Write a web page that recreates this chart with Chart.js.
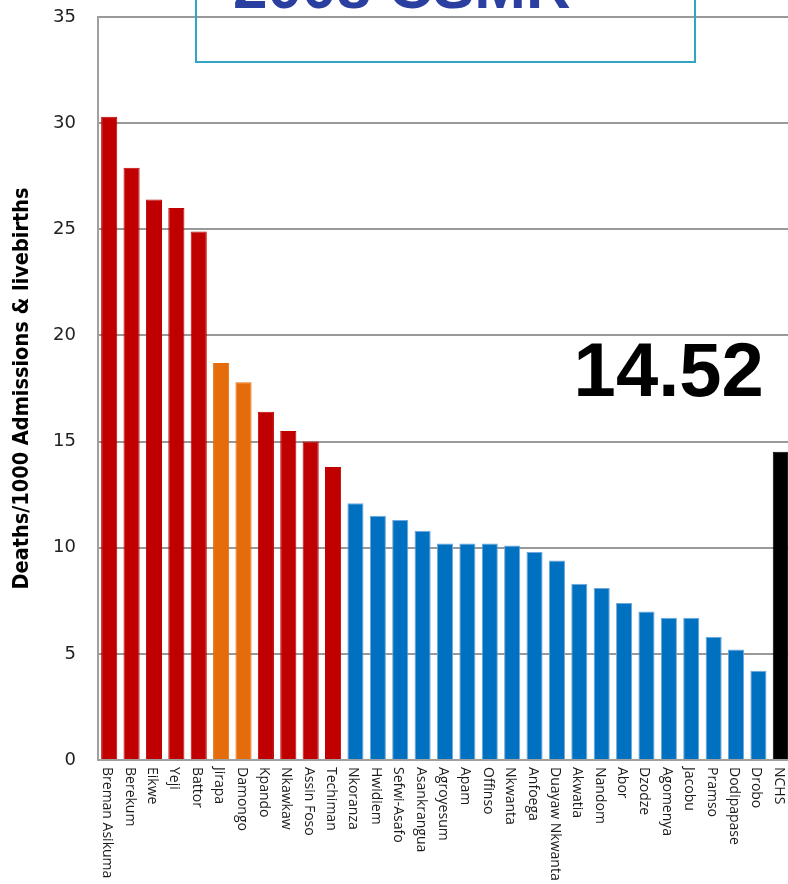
<!DOCTYPE html>
<html>
<head>
<meta charset="utf-8">
<script src="https://cdn.jsdelivr.net/npm/chart.js@4/dist/chart.umd.min.js"></script>
<style>
  html, body { margin: 0; padding: 0; background: #fff; overflow: hidden; }
  #wrap { width: 788px; height: 884px; overflow: hidden; }
</style>
</head>
<body>
<div id="wrap"><canvas id="csmr" width="795" height="884"></canvas></div>
<script>
// ── Dados ─────────────────────────────────────────────
const hospitals = [
  'Breman Asikuma', 'Berekum', 'Eikwe', 'Yeji', 'Battor', 'Jirapa', 'Damongo',
  'Kpando', 'Nkawkaw', 'Assin Foso', 'Techiman', 'Nkoranza', 'Hwidiem',
  'Sefwi-Asafo', 'Asankrangua', 'Agroyesum', 'Apam', 'Offinso', 'Nkwanta',
  'Anfoega', 'Duayaw Nkwanta', 'Akwatia', 'Nandom', 'Abor', 'Dzodze',
  'Agomenya', 'Jacobu', 'Pramso', 'Dodipapase', 'Drobo', 'NCHS'
];
const rates = [
  30.3, 27.9, 26.4, 26.0, 24.9, 18.7, 17.8,
  16.4, 15.5, 15.0, 13.8, 12.1, 11.5,
  11.3, 10.8, 10.2, 10.2, 10.2, 10.1,
  9.8, 9.4, 8.3, 8.1, 7.4, 7.0,
  6.7, 6.7, 5.8, 5.2, 4.2, 14.52
];
// grupo de cada hospital: acima da média, norte, abaixo da média, referência nacional
const groups = [
  'above', 'above', 'above', 'above', 'above', 'north', 'north',
  'above', 'above', 'above', 'above', 'below', 'below',
  'below', 'below', 'below', 'below', 'below', 'below',
  'below', 'below', 'below', 'below', 'below', 'below',
  'below', 'below', 'below', 'below', 'below', 'national'
];
const yTicks = [0, 5, 10, 15, 20, 25, 30, 35];
const chartTitle = '2008 CSMR';
const yTitle = 'Deaths/1000 Admissions & livebirths';

// ── Paleta ────────────────────────────────────────────
const FILL = { above: '#c00000', north: '#e46c0a', below: '#0070c0', national: '#000000' };
const EDGE = { above: '#c00000', north: '#e46c0a', below: '#6fa8dc', national: '#000000' };
const GRID = '#999999';

// ── Rótulos do eixo x, girados 90° (leitura de cima para baixo) ──
const verticalLabels = {
  id: 'verticalLabels',
  afterDraw(chart) {
    const xs = chart.scales.x;
    const ctx = chart.ctx;
    ctx.save();
    ctx.font = '14px "Open Sans", sans-serif';
    ctx.fillStyle = '#1a1a1a';
    ctx.textAlign = 'left';
    ctx.textBaseline = 'middle';
    hospitals.forEach((name, i) => {
      const x = xs.getPixelForTick(i) - 2;
      ctx.save();
      ctx.translate(x, chart.chartArea.bottom + 7);
      ctx.rotate(Math.PI / 2);
      ctx.fillText(name, 0, 0);
      ctx.restore();
    });
    ctx.restore();
  },
};

// ── Caixa do título e valor de referência ─────────────
const annotations = {
  id: 'annotations',
  afterDraw(chart) {
    const ctx = chart.ctx;
    ctx.save();
    ctx.strokeStyle = '#31a5c3';
    ctx.lineWidth = 2;
    ctx.strokeRect(196, -6, 499, 68);
    ctx.fillStyle = '#2b3fa0';
    ctx.font = 'bold 62px "Liberation Sans", Arial, sans-serif';
    ctx.textAlign = 'left';
    ctx.textBaseline = 'alphabetic';
    ctx.fillText(chartTitle, 233, 8);

    const last = rates.length - 1;
    const bar = chart.getDatasetMeta(0).data[last];
    ctx.fillStyle = '#000';
    ctx.font = 'bold 76px "Liberation Sans", Arial, sans-serif';
    ctx.textAlign = 'right';
    ctx.fillText(rates[last].toFixed(2), bar.x - 17, bar.y - 56);
    ctx.restore();
  },
};

new Chart(document.getElementById('csmr'), {
  type: 'bar',
  data: {
    labels: hospitals,
    datasets: [{
      data: rates,
      backgroundColor: groups.map((g) => FILL[g]),
      borderColor: groups.map((g) => EDGE[g]),
      borderWidth: 1,
      borderSkipped: 'bottom',
      barPercentage: 0.72,
      categoryPercentage: 1,
    }],
  },
  options: {
    responsive: false,
    animation: false,
    devicePixelRatio: 1,
    layout: { padding: { top: 17, right: 3, bottom: 124, left: 0 } },
    plugins: { legend: { display: false }, tooltip: { enabled: false } },
    scales: {
      x: {
        offset: true,
        grid: { display: false, drawTicks: false },
        border: { color: '#a0a0a0', width: 2 },
        ticks: { display: false },
      },
      y: {
        min: yTicks[0],
        max: yTicks[yTicks.length - 1],
        afterBuildTicks: (s) => { s.ticks = yTicks.map((v) => ({ value: v })); },
        // largura fixa do eixo; o padding dos rótulos não deve empurrar a área do gráfico
        afterFit: (s) => { s.width = 98; s.paddingTop = 0; s.paddingBottom = 0; },
        ticks: {
          color: '#222',
          padding: 22,
          font: { family: '"DejaVu Sans", Verdana, sans-serif', size: 18 },
        },
        grid: { color: GRID, lineWidth: 2, drawTicks: false },
        border: { color: '#a0a0a0', width: 2 },
        title: {
          display: true,
          text: yTitle,
          color: '#000',
          padding: { top: 10, bottom: 0 },
          font: { family: '"Liberation Sans Narrow", "DejaVu Sans Condensed", sans-serif', size: 21.5, weight: 'bold' },
        },
      },
    },
  },
  plugins: [verticalLabels, annotations],
});
</script>
</body>
</html>
